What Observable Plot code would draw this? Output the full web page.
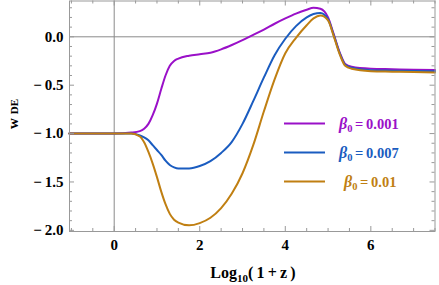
<!DOCTYPE html>
<html>
<head>
<meta charset="utf-8">
<script src="https://cdn.jsdelivr.net/npm/d3@7"></script>
<script src="https://cdn.jsdelivr.net/npm/@observablehq/plot@0.6"></script>
<style>
  html, body { margin: 0; padding: 0; background: white; }
  #chart { width: 439px; height: 285px; }
</style>
</head>
<body>
<div id="chart"></div>
<script>
// ---- data ----
const xValues = [-1.05, 0, 0.4, 0.6, 0.7, 0.8, 0.9, 1.0, 1.1, 1.2, 1.3, 1.4, 1.5, 1.75, 2.0, 2.25, 2.5, 2.75, 3.0, 3.25, 3.5, 3.75, 4.0, 4.25, 4.5, 4.66, 4.82, 5.0, 5.13, 5.28, 5.4, 5.55, 6.0, 6.5, 7.0, 7.5];
const wPurple = [-1, -1, -0.99, -0.975, -0.95, -0.9, -0.81, -0.69, -0.54, -0.40, -0.30, -0.25, -0.225, -0.195, -0.18, -0.165, -0.13, -0.085, -0.035, 0.02, 0.075, 0.135, 0.19, 0.24, 0.28, 0.30, 0.29, 0.2, 0.03, -0.17, -0.28, -0.31, -0.33, -0.335, -0.34, -0.343];
const wBlue   = [-1, -1, -1.0, -1.02, -1.04, -1.07, -1.12, -1.17, -1.22, -1.28, -1.325, -1.35, -1.362, -1.36, -1.335, -1.285, -1.2, -1.085, -0.9, -0.665, -0.42, -0.19, -0.02, 0.11, 0.2, 0.235, 0.245, 0.18, 0.02, -0.18, -0.29, -0.32, -0.345, -0.35, -0.353, -0.355];
const wOrange = [-1, -1, -1.0, -1.03, -1.09, -1.19, -1.31, -1.45, -1.6, -1.73, -1.83, -1.89, -1.92, -1.948, -1.925, -1.87, -1.77, -1.62, -1.41, -1.12, -0.77, -0.44, -0.17, -0.01, 0.12, 0.19, 0.22, 0.17, 0.01, -0.19, -0.3, -0.33, -0.355, -0.36, -0.365, -0.368];
const betaLabels = ["0.001", "0.007", "0.01"];
const seriesColors = ["#9a10c8", "#1a5cc0", "#c07f12"];
const xTickLabels = [0, 2, 4, 6];
const xMinorTicks = [-1, -0.5, 0, 0.5, 1, 1.5, 2, 2.5, 3, 3.5, 4, 4.5, 5, 5.5, 6, 6.5, 7, 7.5];
const yTickLabels = [-2.0, -1.5, -1.0, -0.5, 0.0];
const yMinorTicks = [-2.0, -1.9, -1.8, -1.7, -1.6, -1.5, -1.4, -1.3, -1.2, -1.1, -1.0, -0.9, -0.8, -0.7, -0.6, -0.5, -0.4, -0.3, -0.2, -0.1, 0.0, 0.1, 0.2, 0.3];

// ---- build table ----
const seriesY = [wPurple, wBlue, wOrange];
const rows = [];
seriesY.forEach((ys, i) => ys.forEach((y, j) => rows.push({x: xValues[j], y, s: betaLabels[i]})));

const W = 439, H = 285, mt = 0.5, mb = 54, ml = 69, mr = 4.5;
const pw = W - ml - mr, ph = H - mt - mb;
const tickColor = "#999";
const majorLen = 5, minorLen = 3;
const isMajorX = d => xTickLabels.includes(d);
const isMajorY = d => Math.abs(d * 2 - Math.round(d * 2)) < 1e-9;
const fmtY = d => d === 0 ? "0.0" : (d < 0 ? "\u2212\u2009" : "") + Math.abs(d).toFixed(1);
const font = "'Liberation Serif', 'DejaVu Serif', serif";

const chart = Plot.plot({
  width: W, height: H,
  marginTop: mt, marginBottom: mb, marginLeft: ml, marginRight: mr,
  style: {fontFamily: font, background: "white", color: "black"},
  x: {domain: [-1.045, 7.5]},
  y: {domain: [-2.012, 0.37]},
  color: {domain: betaLabels, range: seriesColors},
  marks: [
    Plot.ruleX([0], {stroke: "#8a8a8a", strokeWidth: 1}),
    Plot.ruleY([0], {stroke: "#8a8a8a", strokeWidth: 1}),
    Plot.line(rows, {x: "x", y: "y", z: "s", stroke: "s", strokeWidth: 2, curve: "monotone-x"}),
    Plot.ruleX(xMinorTicks.filter(d => !isMajorX(d)), {x: d => d, insetTop: ph - minorLen, stroke: tickColor}),
    Plot.ruleX(xMinorTicks.filter(isMajorX), {x: d => d, insetTop: ph - majorLen, stroke: tickColor}),
    Plot.ruleX(xMinorTicks.filter(d => !isMajorX(d)), {x: d => d, insetBottom: ph - minorLen, stroke: tickColor}),
    Plot.ruleX(xMinorTicks.filter(isMajorX), {x: d => d, insetBottom: ph - majorLen, stroke: tickColor}),
    Plot.ruleY(yMinorTicks.filter(d => !isMajorY(d)), {y: d => d, insetRight: pw - minorLen, stroke: tickColor}),
    Plot.ruleY(yMinorTicks.filter(isMajorY), {y: d => d, insetRight: pw - majorLen, stroke: tickColor}),
    Plot.ruleY(yMinorTicks.filter(d => !isMajorY(d)), {y: d => d, insetLeft: pw - minorLen, stroke: tickColor}),
    Plot.ruleY(yMinorTicks.filter(isMajorY), {y: d => d, insetLeft: pw - majorLen, stroke: tickColor}),
    Plot.frame({stroke: tickColor, strokeWidth: 1}),
    Plot.axisX({ticks: xTickLabels, tickSize: 0, tickPadding: 8, fontSize: 15, fontWeight: "bold", label: null, tickFormat: d => String(d)}),
    Plot.axisY({ticks: yTickLabels, tickSize: 0, tickPadding: 6, fontSize: 15, fontWeight: "bold", label: null, tickFormat: fmtY})
  ]
});
document.getElementById("chart").appendChild(chart);

// ---- axis titles & legend as real SVG text ----
const svg = d3.select(chart);

const xl = svg.append("text")
  .attr("x", 253).attr("y", 278)
  .attr("text-anchor", "middle")
  .attr("font-family", font).attr("font-weight", "bold").attr("font-size", 16)
  .attr("fill", "black");
xl.append("tspan").text("Log");
xl.append("tspan").attr("font-size", 11).attr("dy", 4).text("10");
xl.append("tspan").attr("dy", -4).text("(\u20091\u2009+\u2009z\u2009)");

const yl = svg.append("text")
  .attr("transform", "translate(18,114) rotate(-90)")
  .attr("text-anchor", "middle")
  .attr("font-family", font).attr("font-weight", "bold").attr("font-size", 15)
  .attr("fill", "black");
yl.append("tspan").text("w");
yl.append("tspan").attr("font-size", 11).attr("dx", 4).text("DE");

const legendY = [123.5, 152.5, 181.5];
const legendTextX = [339, 339, 344];
betaLabels.forEach((lab, i) => {
  svg.append("line")
    .attr("x1", 284).attr("x2", 325)
    .attr("y1", legendY[i]).attr("y2", legendY[i])
    .attr("stroke", seriesColors[i]).attr("stroke-width", 2);
  const t = svg.append("text")
    .attr("x", legendTextX[i]).attr("y", legendY[i] + 5)
    .attr("text-anchor", "start")
    .attr("font-family", font).attr("font-weight", "bold").attr("font-size", 14.5)
    .attr("fill", seriesColors[i]);
  t.append("tspan").attr("font-style", "italic").attr("font-size", 16).text("\u03B2");
  t.append("tspan").attr("font-size", 10.5).attr("dy", 3).text("0");
  t.append("tspan").attr("dy", -3).attr("dx", 2.5).text("=\u2009" + lab);
});
</script>
</body>
</html>
